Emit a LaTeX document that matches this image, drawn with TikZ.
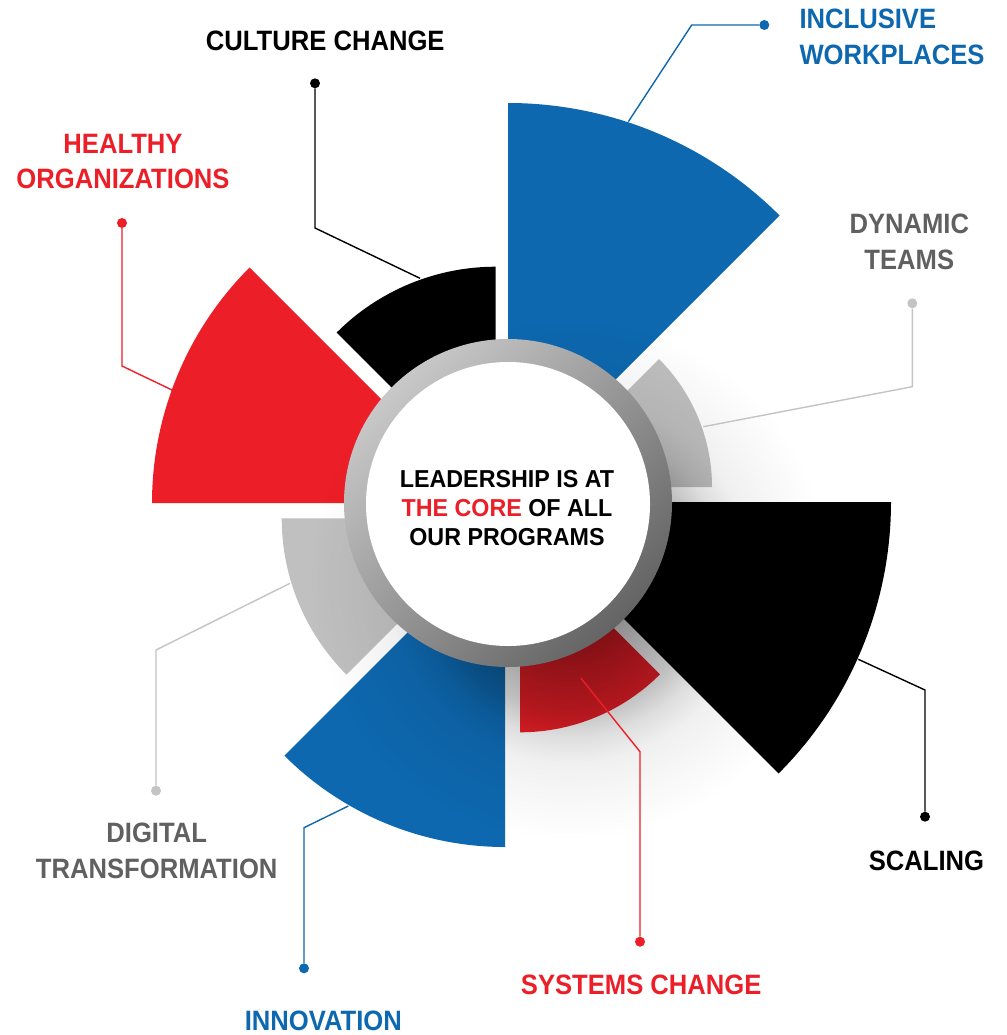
\documentclass[tikz,border=0pt]{standalone}
\usepackage{fontspec}
\setmainfont{Liberation Sans}
\newfontfamily\lblfont{Liberation Sans}[FakeStretch=0.915]
\newfontfamily\corefont{Liberation Sans}[FakeStretch=0.95]
\usetikzlibrary{fadings}
\definecolor{cblue}{RGB}{14,104,175}
\definecolor{cred}{RGB}{236,31,40}
\definecolor{cgrey}{RGB}{192,192,192}
\definecolor{ctext}{RGB}{96,96,96}
\definecolor{cline}{RGB}{196,196,196}
\definecolor{ringL}{RGB}{200,200,200}
\definecolor{ringM}{RGB}{176,176,176}
\definecolor{ringD}{RGB}{100,100,100}
\pgfdeclareradialshading{shadowshade}{\pgfpointorigin}{color(0bp)=(white!48!black); color(6bp)=(white!45!black); color(12.5bp)=(white!25!black); color(15bp)=(white!13!black); color(17.5bp)=(white!6!black); color(21bp)=(white!3!black); color(25bp)=(black); color(50bp)=(black)}
\pgfdeclarefading{shadowfade}{\pgfuseshading{shadowshade}}
\tikzset{
  lbl/.style={font=\lblfont\bfseries\fontsize{28}{35.5}\selectfont, inner sep=0pt, align=center},
  coretext/.style={font=\corefont\bfseries\fontsize{24.5}{29}\selectfont, inner sep=0pt, align=center},
  dotn/.style={circle, inner sep=0pt, minimum size=10pt},
  conn/.style={line width=1.4pt},
}
\begin{document}
\begin{tikzpicture}[x=1pt,y=-1pt]
\useasboundingbox (0,0) rectangle (1006,1035);
\clip (0,0) rectangle (1006,1035);
\fill[white] (0,0) rectangle (1006,1035);
% sectors
\fill[black] (495.7,491.7) -- ++(-90:225) arc[start angle=-90,end angle=-135,radius=225] -- cycle;
\fill[cblue] (508,487) -- ++(-90:384) arc[start angle=-90,end angle=-45,radius=384] -- cycle;
\fill[cgrey] (531,487) -- ++(-45:181) arc[start angle=-45,end angle=0,radius=181] -- cycle;
\fill[black] (507,502) -- ++(0:384) arc[start angle=0,end angle=45,radius=384] -- cycle;
\fill[cred] (520,534.3) -- ++(45:198) arc[start angle=45,end angle=90,radius=198] -- cycle;
\fill[cblue] (505,535) -- ++(90:312) arc[start angle=90,end angle=135,radius=312] -- cycle;
\fill[cgrey] (502.7,518.3) -- ++(135:221) arc[start angle=135,end angle=180,radius=221] -- cycle;
\fill[cred] (485,503) -- ++(180:333) arc[start angle=180,end angle=225,radius=333] -- cycle;
% shadow
\fill[black, path fading=shadowfade] (570,580) circle[radius=260];
% ring
\shade[top color=ringL, middle color=ringM, bottom color=ringD, shading angle=45] (508,503) circle[radius=164];
\fill[white] (508,504) circle[radius=142];
% centre text
\node[coretext] (core) at (507,508.3) {LEADERSHIP IS AT\\\textcolor{cred}{THE CORE} OF ALL\\OUR PROGRAMS};
% labels
\node[lbl, text=black] (lculture) at (325.3,41) {CULTURE CHANGE};
\node[lbl, text=cred] (lhealthy) at (123,161.7) {HEALTHY\\ORGANIZATIONS};
\node[lbl, text=cblue, align=left, anchor=west] (lincl) at (799.3,36.7) {INCLUSIVE\\WORKPLACES};
\node[lbl, text=ctext] (ldyn) at (909.3,242) {DYNAMIC\\TEAMS};
\node[lbl, text=ctext] (ldig) at (156.7,850.8) {DIGITAL\\TRANSFORMATION};
\node[lbl, text=cblue] (linno) at (323.3,1020.5) {INNOVATION};
\node[lbl, text=cred] (lsys) at (641.2,985) {SYSTEMS CHANGE};
\node[lbl, text=black] (lscal) at (926.5,860.7) {SCALING};
% dots
\node[dotn, fill=black] (dculture) at (315,83.3) {};
\node[dotn, fill=cred] (dhealthy) at (122,223) {};
\node[dotn, fill=cblue] (dincl) at (764.3,25) {};
\node[dotn, fill=cline] (ddyn) at (912.3,303.3) {};
\node[dotn, fill=cline] (ddig) at (156,790.7) {};
\node[dotn, fill=cblue] (dinno) at (304,968.3) {};
\node[dotn, fill=cred] (dsys) at (640,941.7) {};
\node[dotn, fill=black] (dscal) at (925,816.7) {};
% bends and ends
\coordinate (bculture) at (315,228);   \coordinate (eculture) at (420,278.3);
\coordinate (bhealthy) at (122,366);   \coordinate (ehealthy) at (172,390);
\coordinate (bincl) at (691.7,25);     \coordinate (eincl) at (628.3,121.7);
\coordinate (bdyn) at (912.3,386.7);   \coordinate (edyn) at (703.3,426.7);
\coordinate (bdig) at (156,650);       \coordinate (edig) at (290,583.3);
\coordinate (binno) at (304,827.7);    \coordinate (einno) at (348.3,806);
\coordinate (bsys) at (640,751.7);     \coordinate (esys) at (581,678.3);
\coordinate (bscal) at (925,690);      \coordinate (escal) at (858.3,659.3);
% connectors
\draw[conn, black] (dculture) -- (bculture) -- (eculture);
\draw[conn, cred] (dhealthy) -- (bhealthy) -- (ehealthy);
\draw[conn, cblue] (dincl) -- (bincl) -- (eincl);
\draw[conn, cline] (ddyn) -- (bdyn) -- (edyn);
\draw[conn, cline] (ddig) -- (bdig) -- (edig);
\draw[conn, cblue] (dinno) -- (binno) -- (einno);
\draw[conn, cred] (dsys) -- (bsys) -- (esys);
\draw[conn, black] (dscal) -- (bscal) -- (escal);
\end{tikzpicture}
\end{document}
